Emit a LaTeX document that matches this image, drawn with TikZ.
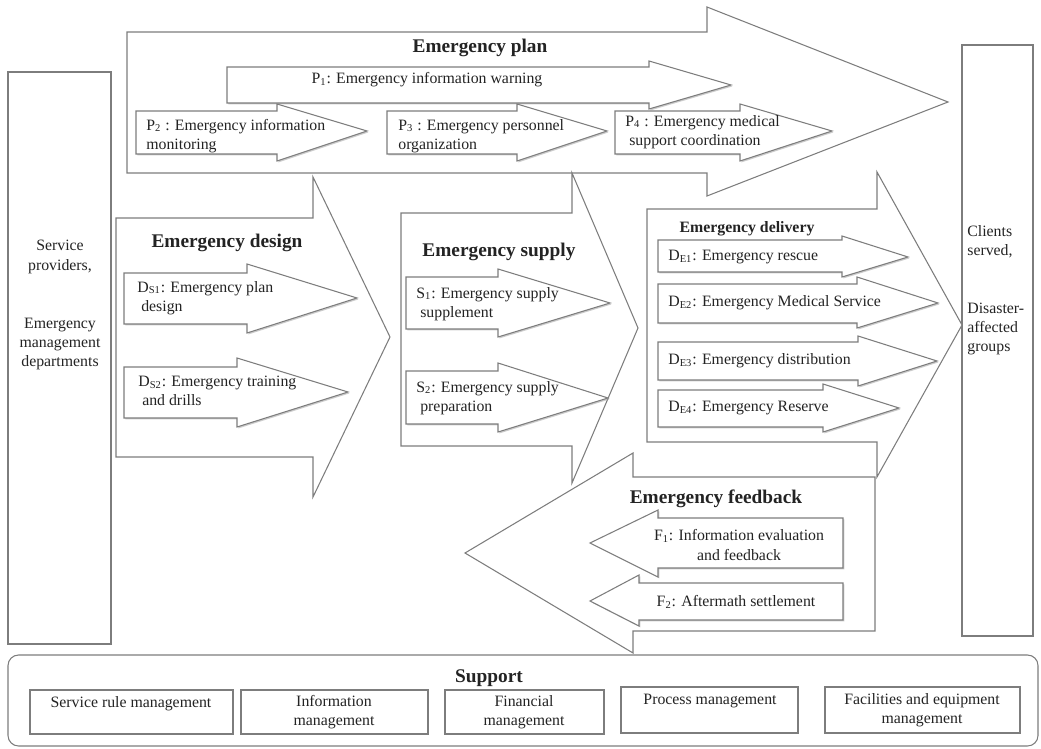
\documentclass[tikz,border=0pt]{standalone}
\usepackage{fontspec}
\setmainfont{Liberation Serif}
\usetikzlibrary{shadows}
\definecolor{LineGray}{RGB}{125, 125, 125}
\definecolor{TextDark}{RGB}{35, 35, 35}

\begin{document}
\begin{tikzpicture}[x=0.2mm, y=-0.2mm,
    bigarrow/.style={draw=LineGray, fill=white, line width=0.6pt},
    subarrow/.style={draw=LineGray, fill=white, line width=0.6pt,
      drop shadow={shadow xshift=0.8pt, shadow yshift=-0.8pt, fill=black!40}},
    plainbox/.style={draw=LineGray, line width=0.6pt},
    supbox/.style={draw=LineGray, fill=white, line width=0.6pt,
      drop shadow={shadow xshift=0.6pt, shadow yshift=-0.6pt, fill=black!25}},
    txt/.style={font=\fontsize{9}{11}\selectfont, text=TextDark, inner sep=0pt},
    ttl/.style={font=\fontsize{11}{13}\selectfont\bfseries, text=TextDark, inner sep=0pt}]

  \useasboundingbox (0,0) rectangle (1041,749);

  % Providers and clients
  \draw[plainbox] (8,72) rectangle (111,644);
  \node[txt, align=center] (prov) at (60,257) {Service\\providers,};
  \node[txt, align=center] (dept) at (60,344) {Emergency\\management\\departments};
  \draw[plainbox] (962,45) rectangle (1033,636);
  \node[txt, align=left, anchor=west] (clients) at (967,242) {Clients\\served,};
  \node[txt, align=left, anchor=west] (groups) at (967,329) {Disaster-\\affected\\groups};

  % Emergency plan
  \draw[bigarrow] (127,32) -- (707,32) -- (707,7) -- (948,102) -- (707,196) -- (707,173) -- (127,173) -- cycle;
  \node[ttl] (plantitle) at (480,48) {Emergency plan};
  \draw[subarrow] (227,67) -- (649,67) -- (649,61) -- (731,85) -- (649,109) -- (649,103) -- (227,103) -- cycle;
  \node[txt] (pone) at (427,80) {P\textsubscript{1}: Emergency information warning};
  \draw[subarrow] (136,111) -- (277,111) -- (277,104) -- (367,131) -- (277,161) -- (277,154) -- (136,154) -- cycle;
  \node[txt, align=left, anchor=west] (ptwo) at (146,136) {P\textsubscript{2} : Emergency information\\monitoring};
  \draw[subarrow] (387,111) -- (517,111) -- (517,104) -- (607,131) -- (517,161) -- (517,154) -- (387,154) -- cycle;
  \node[txt, align=left, anchor=west] (pthree) at (398,136) {P\textsubscript{3} : Emergency personnel\\organization};
  \draw[subarrow] (615,111) -- (740,111) -- (740,104) -- (832,131) -- (740,161) -- (740,154) -- (615,154) -- cycle;
  \node[txt, align=left, anchor=west] (pfour) at (625,132) {P\textsubscript{4} : Emergency medical\\~support coordination};

  % Emergency design
  \draw[bigarrow] (116,218) -- (313,218) -- (313,177) -- (390,337) -- (313,497) -- (313,457) -- (116,457) -- cycle;
  \node[ttl] (designtitle) at (227,243) {Emergency design};
  \draw[subarrow] (124,273) -- (247,273) -- (247,264) -- (357,298) -- (247,333) -- (247,324) -- (124,324) -- cycle;
  \node[txt, align=left, anchor=west] (dsone) at (137,298) {D\textsubscript{S1}: Emergency plan\\~design};
  \draw[subarrow] (124,367) -- (237,367) -- (237,358) -- (348,392) -- (237,427) -- (237,418) -- (124,418) -- cycle;
  \node[txt, align=left, anchor=west] (dstwo) at (138,391) {D\textsubscript{S2}: Emergency training\\~and drills};

  % Emergency supply
  \draw[bigarrow] (401,213) -- (572,213) -- (572,173) -- (638,328) -- (572,483) -- (572,446) -- (401,446) -- cycle;
  \node[ttl] (supplytitle) at (499,252) {Emergency supply};
  \draw[subarrow] (406,277) -- (498,277) -- (498,269) -- (610,303) -- (498,337) -- (498,329) -- (406,329) -- cycle;
  \node[txt, align=left, anchor=west] (sone) at (416,304) {S\textsubscript{1}: Emergency supply\\~supplement};
  \draw[subarrow] (406,371) -- (498,371) -- (498,363) -- (608,398) -- (498,432) -- (498,424) -- (406,424) -- cycle;
  \node[txt, align=left, anchor=west] (stwo) at (416,398) {S\textsubscript{2}: Emergency supply\\~preparation};

  % Emergency delivery
  \draw[bigarrow] (647,209) -- (877,209) -- (877,172) -- (962,325) -- (877,477) -- (877,442) -- (647,442) -- cycle;
  \node[ttl, font=\fontsize{9}{11}\selectfont\bfseries] (deliverytitle) at (747,229) {Emergency delivery};
  \draw[subarrow] (658,240) -- (842,240) -- (842,236) -- (908,257) -- (842,277) -- (842,272) -- (658,272) -- cycle;
  \node[txt, anchor=west] (deone) at (668,257) {D\textsubscript{E1}: Emergency rescue};
  \draw[subarrow] (658,284) -- (857,284) -- (857,277) -- (938,303) -- (857,328) -- (857,323) -- (658,323) -- cycle;
  \node[txt, anchor=west] (detwo) at (668,303) {D\textsubscript{E2}: Emergency Medical Service};
  \draw[subarrow] (658,342) -- (858,342) -- (858,336) -- (937,361) -- (858,386) -- (858,380) -- (658,380) -- cycle;
  \node[txt, anchor=west] (dethree) at (668,361) {D\textsubscript{E3}: Emergency distribution};
  \draw[subarrow] (658,390) -- (823,390) -- (823,384) -- (899,408) -- (823,432) -- (823,427) -- (658,427) -- cycle;
  \node[txt, anchor=west] (defour) at (668,408) {D\textsubscript{E4}: Emergency Reserve};

  % Emergency feedback
  \draw[bigarrow] (875,477) -- (633,477) -- (633,453) -- (465,553) -- (633,653) -- (633,631) -- (875,631) -- cycle;
  \node[ttl] (feedbacktitle) at (716,499) {Emergency feedback};
  \draw[subarrow] (843,518) -- (658,518) -- (658,510) -- (590,543) -- (658,577) -- (658,568) -- (843,568) -- cycle;
  \node[txt, align=center] (fone) at (739,545) {F\textsubscript{1}: Information evaluation\\and feedback};
  \draw[subarrow] (843,583) -- (639,583) -- (639,575) -- (590,601) -- (639,626) -- (639,620) -- (843,620) -- cycle;
  \node[txt] (ftwo) at (736,602) {F\textsubscript{2}: Aftermath settlement};

  % Support
  \draw[plainbox, rounded corners=6pt] (8,655) rectangle (1038,746);
  \node[ttl] (supporttitle) at (489,678) {Support};
  \draw[supbox] (30,690) rectangle (233,734);
  \node[txt] (rules) at (131,704) {Service rule management};
  \draw[supbox] (241,690) rectangle (428,734);
  \node[txt, align=center] (info) at (334,712) {Information\\management};
  \draw[supbox] (445,690) rectangle (604,734);
  \node[txt, align=center] (finance) at (524,712) {Financial\\management};
  \draw[supbox] (621,687) rectangle (798,733);
  \node[txt] (process) at (710,701) {Process management};
  \draw[supbox] (825,687) rectangle (1020,733);
  \node[txt, align=center] (facilities) at (922,710) {Facilities and equipment\\management};
\end{tikzpicture}
\end{document}
